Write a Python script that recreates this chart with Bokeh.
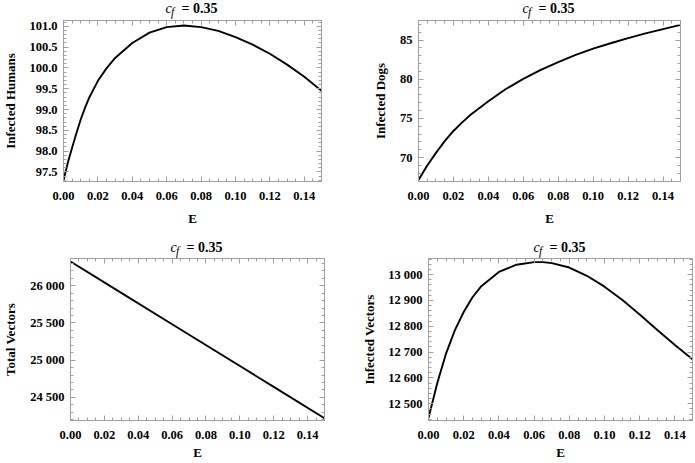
from bokeh.plotting import figure
from bokeh.layouts import column, row
from bokeh.models import Range1d, LinearAxis, FixedTicker, CustomLabelingPolicy
from bokeh.core.properties import value
from bokeh.embed import file_html
from bokeh.resources import INLINE

# ---- data ----
E_humans = [0.0, 0.0025, 0.005, 0.0075, 0.01, 0.0125, 0.015, 0.02, 0.025, 0.03, 0.04, 0.05,
            0.06, 0.07, 0.08, 0.09, 0.10, 0.11, 0.12, 0.13, 0.14, 0.15]
infected_humans = [97.3, 97.72, 98.08, 98.43, 98.76, 99.04, 99.29, 99.69, 99.99, 100.24, 100.6, 100.85,
                   100.98, 101.02, 100.98, 100.89, 100.74, 100.56, 100.34, 100.08, 99.79, 99.45]

E_dogs = [0.0, 0.005, 0.01, 0.015, 0.02, 0.025, 0.03, 0.04, 0.05, 0.06, 0.07, 0.08, 0.09,
          0.10, 0.11, 0.12, 0.13, 0.14, 0.15]
infected_dogs = [67.15, 69.0, 70.6, 72.1, 73.4, 74.5, 75.5, 77.2, 78.75, 80.05, 81.2, 82.2, 83.1,
                 83.9, 84.6, 85.25, 85.85, 86.4, 86.95]

E_total = [0.0, 0.03, 0.06, 0.09, 0.12, 0.15]
total_vectors = [26325, 25904, 25483, 25062, 24641, 24220]

E_vec = [0.0, 0.005, 0.01, 0.015, 0.02, 0.025, 0.03, 0.04, 0.05, 0.06, 0.065, 0.07, 0.08,
         0.09, 0.10, 0.11, 0.12, 0.13, 0.14, 0.15]
infected_vectors = [12445, 12580, 12695, 12785, 12855, 12912, 12955, 13010, 13038, 13048, 13048, 13044, 13027,
                    12995, 12953, 12902, 12845, 12785, 12727, 12672]

x_ticks = [0.0, 0.02, 0.04, 0.06, 0.08, 0.10, 0.12, 0.14]
humans_ticks = [97.5, 98.0, 98.5, 99.0, 99.5, 100.0, 100.5, 101.0]
humans_labels = ["97.5", "98.0", "98.5", "99.0", "99.5", "100.0", "100.5", "101.0"]
dogs_ticks = [70, 75, 80, 85]
dogs_labels = ["70", "75", "80", "85"]
total_ticks = [24500, 25000, 25500, 26000]
total_labels = ["24 500", "25 000", "25 500", "26 000"]
vec_ticks = [12500, 12600, 12700, 12800, 12900, 13000]
vec_labels = ["12 500", "12 600", "12 700", "12 800", "12 900", "13 000"]
title_c, title_f, title_rest = "c", "f", "= 0.35"

FONT = "Liberation Serif"
FRAME = "#a0a0a0"


def title_fig(w, left, right, h, ty):
    t = figure(width=w, height=h, output_backend="svg", toolbar_location=None,
               x_range=Range1d(0.0, 0.15), y_range=Range1d(0, h),
               x_axis_type=None, y_axis_type=None,
               min_border_left=left, min_border_right=right, min_border_top=0, min_border_bottom=0)
    t.grid.visible = False
    t.outline_line_color = None
    t.text(x=[0.075], y=[ty], text=[title_c], x_offset=-27, text_font=value(FONT),
           text_font_style="italic", text_font_size="14px", text_align="left",
           text_baseline="middle", text_color="black")
    t.text(x=[0.075], y=[ty - 3.5], text=[title_f], x_offset=-21.5, text_font=value(FONT),
           text_font_style="italic", text_font_size="11.5px", text_align="left",
           text_baseline="middle", text_color="black")
    t.text(x=[0.075], y=[ty], text=[title_rest], x_offset=-11, text_font=value(FONT),
           text_font_style="bold", text_font_size="14px", text_align="left",
           text_baseline="middle", text_color="black")
    return t


def make(xs, ys, ylabel, yrange, yticks, ylabels, w, borders, h, th, ty, ylab_standoff, xlab_standoff):
    left, right, bottom = borders
    p = figure(width=w, height=h, output_backend="svg", toolbar_location=None,
               x_range=Range1d(0.0, 0.15), y_range=Range1d(*yrange),
               min_border_left=left, min_border_right=right,
               min_border_top=0, min_border_bottom=bottom,
               x_axis_label="E", y_axis_label=ylabel)
    p.xgrid.visible = False
    p.ygrid.visible = False
    p.outline_line_color = FRAME
    p.line(xs, ys, line_color="black", line_width=1.9)

    xt = FixedTicker(ticks=x_ticks, minor_ticks=[i * 0.005 for i in range(31)])
    step = (yticks[1] - yticks[0]) / 5.0
    yt = FixedTicker(ticks=yticks, minor_ticks=[yticks[0] + step * k for k in range(-10, 5 * len(yticks) + 10)])
    p.xaxis.ticker = xt
    p.yaxis.ticker = yt
    p.xaxis.major_label_overrides = {t: "%.2f" % t for t in x_ticks}
    p.yaxis.major_label_overrides = dict(zip(yticks, ylabels))

    for ax in (p.xaxis[0], p.yaxis[0]):
        ax.axis_line_color = FRAME
        ax.major_tick_line_color = FRAME
        ax.minor_tick_line_color = FRAME
        ax.major_tick_in = 5
        ax.major_tick_out = 0
        ax.minor_tick_in = 3
        ax.minor_tick_out = 0
        ax.major_label_text_font = FONT
        ax.major_label_text_font_style = "bold"
        ax.major_label_text_font_size = "12.5px"
        ax.major_label_text_color = "black"
        ax.axis_label_text_font = FONT
        ax.axis_label_text_font_style = "bold"
        ax.axis_label_text_font_size = "13px"
        ax.axis_label_text_color = "black"
    p.xaxis.major_label_standoff = 10
    p.xaxis.axis_label_standoff = xlab_standoff
    p.yaxis.major_label_standoff = 6
    p.yaxis.axis_label_standoff = ylab_standoff

    hide = CustomLabelingPolicy(code="for (const i of indices) { indices.unset(i) }\nreturn indices")
    hide2 = CustomLabelingPolicy(code="for (const i of indices) { indices.unset(i) }\nreturn indices")
    top_ax = LinearAxis(ticker=xt, major_label_policy=hide, major_label_text_font_size="0px",
                        major_label_standoff=0, axis_line_color=FRAME,
                        major_tick_line_color=FRAME, minor_tick_line_color=FRAME,
                        major_tick_in=5, major_tick_out=0, minor_tick_in=3, minor_tick_out=0)
    right_ax = LinearAxis(ticker=yt, major_label_policy=hide2, major_label_text_font_size="0px",
                          major_label_standoff=0, axis_line_color=FRAME,
                          major_tick_line_color=FRAME, minor_tick_line_color=FRAME,
                          major_tick_in=5, major_tick_out=0, minor_tick_in=3, minor_tick_out=0)
    p.add_layout(top_ax, "above")
    p.add_layout(right_ax, "right")

    t = title_fig(w, left, right, th, ty)
    return column(t, p, spacing=0)


WL, WR = 345, 349
c1 = make(E_humans, infected_humans, "Infected Humans", (97.27, 101.14), humans_ticks, humans_labels,
          WL, (61, 24, 49), 210, 20, 12.0, 8, 8)
c2 = make(E_dogs, infected_dogs, "Infected Dogs", (66.95, 87.5), dogs_ticks, dogs_labels,
          WR, (73, 14, 49), 210, 20, 12.0, 9, 8)
c3 = make(E_total, total_vectors, "Total Vectors", (24190, 26365), total_ticks, total_labels,
          WL, (61, 21, 42), 204, 28, 11.3, 9, 3)
c4 = make(E_vec, infected_vectors, "Infected Vectors", (12435, 13062), vec_ticks, vec_labels,
          WR, (83, 2, 42), 204, 28, 11.3, 8, 3)

layout = column(row(c1, c2, spacing=0), row(c3, c4, spacing=0), spacing=0)
open("out.html", "w").write(file_html(layout, INLINE))
